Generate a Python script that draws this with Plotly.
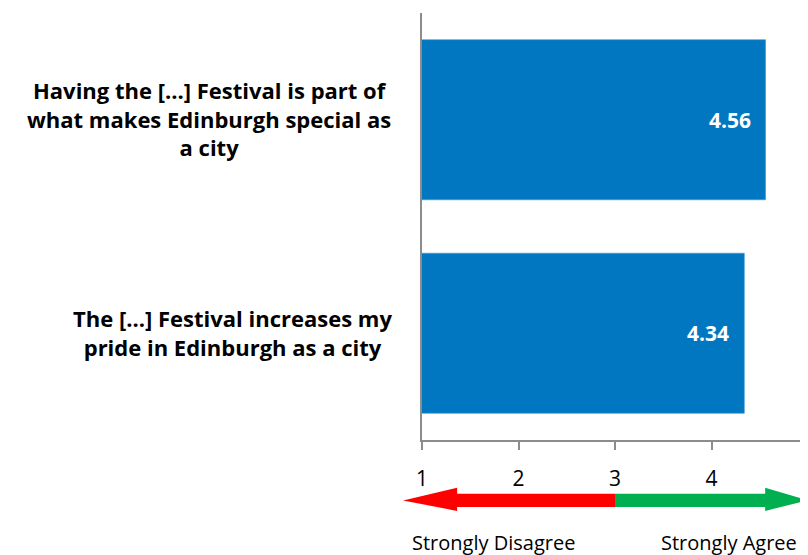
import plotly.graph_objects as go

categories = [
    "Having the [...] Festival is part of<br>what makes Edinburgh special as<br>a city",
    "The [...] Festival increases my<br>pride in Edinburgh as a city",
]
values = [4.56, 4.34]
value_labels = ["4.56", "4.34"]
tick_values = [1, 2, 3, 4, 5]
tick_labels = ["1", "2", "3", "4", "5"]
scale_labels = ["Strongly Disagree", "Strongly Agree"]

BAR = "#0077C0"
AXIS = "#8C8C8C"
FONT = "Open Sans"

ids = ["c0", "c1"]

fig = go.Figure()
fig.add_trace(go.Bar(
    x=values, y=ids, orientation="h",
    marker=dict(color=BAR, line=dict(color="#3C98D3", width=0.6)),
    width=0.75, hoverinfo="skip",
))

for i, (v, lab) in enumerate(zip(values, value_labels)):
    fig.add_annotation(x=v, y=ids[i], xref="x", yref="y", text=lab,
                       showarrow=False, xanchor="right", xshift=-13,
                       font=dict(family=FONT, size=21, color="white", weight="bold"))
label_x = [-0.553, -0.49]
for i, cat in enumerate(categories):
    fig.add_annotation(x=label_x[i], y=ids[i], xref="paper", yref="y", text=cat,
                       showarrow=False, xanchor="center", align="center", yshift=1,
                       font=dict(family=FONT, size=22, color="black", weight="bold"))

# arrows (paper coordinates)
y0, y1 = -0.126, -0.157
h0, h1 = -0.112, -0.166
fig.add_shape(type="path", xref="paper", yref="paper",
              path=f"M 0.5 {y0} L 0.091 {y0} L 0.091 {h0} L -0.049 {(y0+y1)/2} L 0.091 {h1} L 0.091 {y1} L 0.5 {y1} Z",
              fillcolor="#FF0000", line=dict(width=0))
fig.add_shape(type="path", xref="paper", yref="paper",
              path=f"M 0.5 {y0} L 0.889 {y0} L 0.889 {h0} L 1.0 {(y0+y1)/2} L 0.889 {h1} L 0.889 {y1} L 0.5 {y1} Z",
              fillcolor="#00B050", line=dict(width=0))
for xp, t in zip([0.184, 0.795], scale_labels):
    fig.add_annotation(x=xp, y=-0.241, xref="paper", yref="paper", text=t,
                       showarrow=False, xanchor="center", yanchor="middle",
                       font=dict(family=FONT, size=20, color="black"))

# the page body adds an 8px offset; compensate in size/margins
fig.update_layout(
    width=800, height=547,
    margin=dict(l=414, r=0, t=5, b=115, autoexpand=False),
    plot_bgcolor="white", paper_bgcolor="white",
    showlegend=False,
    xaxis=dict(
        range=[1, 5], tickvals=tick_values, ticktext=tick_labels,
        showgrid=False, zeroline=False, showline=True, linecolor=AXIS, linewidth=1.5,
        ticks="outside", ticklen=8, tickcolor=AXIS, tickwidth=1.5,
        ticklabelstandoff=11, ticklabeloverflow="allow", automargin=False,
        tickfont=dict(family=FONT, size=21, color="black"),
    ),
    yaxis=dict(
        categoryorder="array", categoryarray=ids, autorange="reversed",
        showticklabels=False, showgrid=False, zeroline=False,
        showline=True, linecolor=AXIS, linewidth=2, automargin=False,
    ),
    bargap=0.25,
)
fig.write_html("out.html")
